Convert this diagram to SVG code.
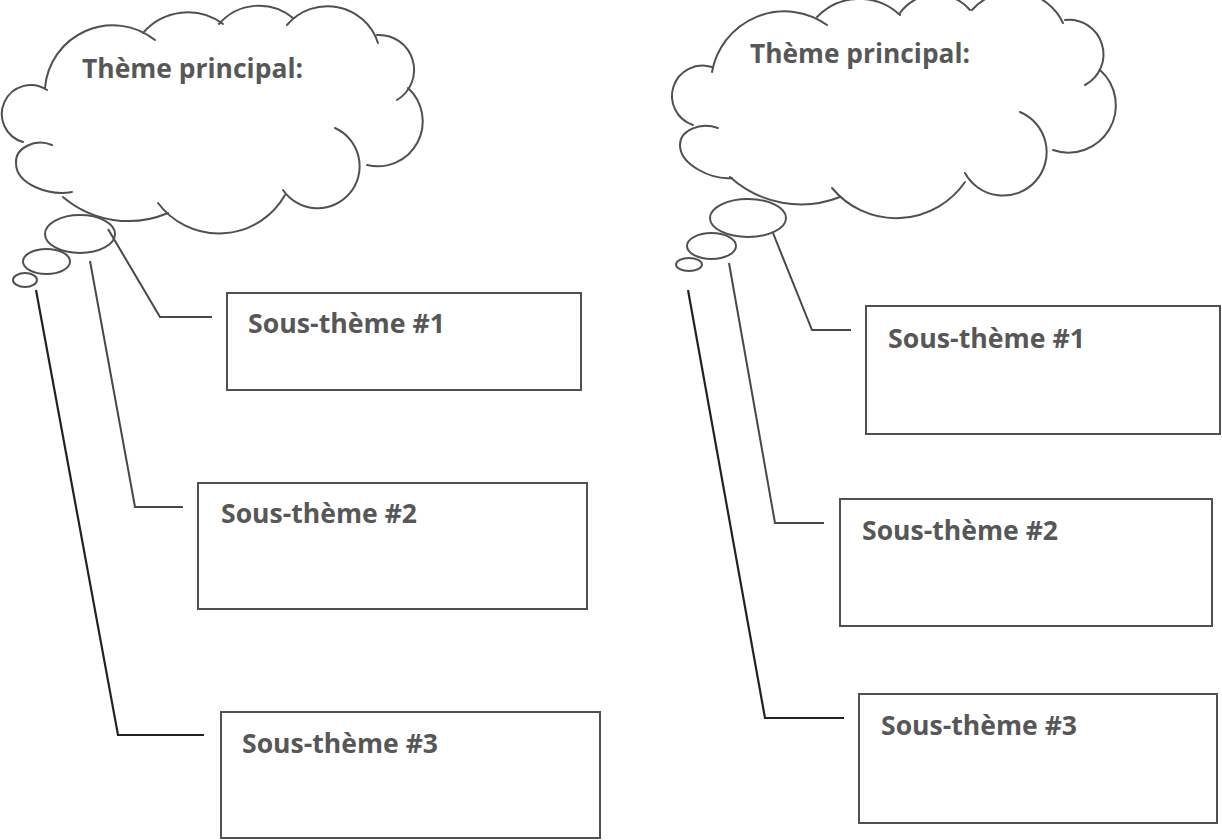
<svg xmlns="http://www.w3.org/2000/svg" width="1222" height="840" viewBox="0 0 1222 840">
<style>
.ol{fill:none;stroke:#505050;stroke-width:2;stroke-linecap:round}
.box{fill:#fff;stroke:#505050;stroke-width:2}
.con{fill:none;stroke:#484848;stroke-width:2}
.con3{fill:none;stroke:#222;stroke-width:2.2}
.t{font-family:"Open Sans",Lato,"Liberation Sans",sans-serif;font-weight:700;font-size:26px;fill:#575757}
</style>
<rect width="1222" height="840" fill="#fff"/>
<g id="connectors">
<polyline class="con" points="108,229 160,317 212,317"/>
<polyline class="con" points="90,261 135,507 183,507"/>
<polyline class="con3" points="36,290 118,735 204,735"/>
<polyline class="con" points="773,233 812,330 851,330"/>
<polyline class="con" points="729,263 775,523 824,523"/>
<polyline class="con3" points="688,290 765,718 844,718"/>
</g>
<g id="theme-left">
<path class="ol" d="M45,88 A68,68 0 0 1 155,40"/>
<path class="ol" d="M143,33 A59,59 0 0 1 223,24"/>
<path class="ol" d="M219,24 A53,53 0 0 1 293,18"/>
<path class="ol" d="M287,25 A53,53 0 0 1 378,43"/>
<path class="ol" d="M377,35 A35,35 0 0 1 397,100"/>
<path class="ol" d="M408,88 A45,45 0 0 1 367,165"/>
<path class="ol" d="M335,128 A42,42 0 1 1 283,190"/>
<path class="ol" d="M285,195 A76,76 0 0 1 158,203"/>
<path class="ol" d="M168,213 A101,101 0 0 1 63,197"/>
<path class="ol" d="M72,192 C50,196 16,185 16,163 C15,148 35,138 52,145"/>
<path class="ol" d="M23,142 A29,29 0 1 1 47,90"/>
<text class="t" x="82" y="78" textLength="221" lengthAdjust="spacingAndGlyphs">Thème principal:</text>
</g>
<g id="bubbles-left">
<ellipse class="ol" cx="80" cy="234" rx="35" ry="19"/>
<ellipse class="ol" cx="46.5" cy="261.5" rx="23.5" ry="12.5"/>
<ellipse class="ol" cx="25" cy="280" rx="12" ry="7"/>
</g>
<g id="sub1-left">
<rect class="box" x="227" y="293" width="354" height="97"/>
<text class="t" x="248" y="333" textLength="197" lengthAdjust="spacingAndGlyphs">Sous-thème #1</text>
</g>
<g id="sub2-left">
<rect class="box" x="198" y="483" width="389" height="126"/>
<text class="t" x="221" y="523" textLength="196" lengthAdjust="spacingAndGlyphs">Sous-thème #2</text>
</g>
<g id="sub3-left">
<rect class="box" x="221" y="712" width="379" height="126"/>
<text class="t" x="242" y="753" textLength="196" lengthAdjust="spacingAndGlyphs">Sous-thème #3</text>
</g>
<g id="theme-right">
<path class="ol" d="M712,72 A73.5,73.5 0 0 1 827,25"/>
<path class="ol" d="M817,17 A59,59 0 0 1 900,15"/>
<path class="ol" d="M900,13 A44.5,44.5 0 0 1 970,10"/>
<path class="ol" d="M972,10 A55,55 0 0 1 1063,23"/>
<path class="ol" d="M1065,20 A34.6,34.6 0 0 1 1085,85"/>
<path class="ol" d="M1100,70 A47.3,47.3 0 0 1 1053,150"/>
<path class="ol" d="M1020,112 A43.5,43.5 0 1 1 965,173"/>
<path class="ol" d="M965,182 A83.5,83.5 0 0 1 832,188"/>
<path class="ol" d="M840,197 A106,106 0 0 1 730,177"/>
<path class="ol" d="M732,178 C712,180 680,165 680,145 C680,130 700,122 718,128"/>
<path class="ol" d="M693,125 A30.5,30.5 0 0 1 712,67"/>
<text class="t" x="750" y="63" textLength="220" lengthAdjust="spacingAndGlyphs">Thème principal:</text>
</g>
<g id="bubbles-right">
<ellipse class="ol" cx="748" cy="218" rx="38" ry="19"/>
<ellipse class="ol" cx="711.5" cy="246" rx="24.5" ry="13"/>
<ellipse class="ol" cx="689" cy="264.5" rx="13" ry="6.5"/>
</g>
<g id="sub1-right">
<rect class="box" x="866" y="306" width="354" height="128"/>
<text class="t" x="888" y="348" textLength="197" lengthAdjust="spacingAndGlyphs">Sous-thème #1</text>
</g>
<g id="sub2-right">
<rect class="box" x="840" y="499" width="372" height="127"/>
<text class="t" x="862" y="540" textLength="196" lengthAdjust="spacingAndGlyphs">Sous-thème #2</text>
</g>
<g id="sub3-right">
<rect class="box" x="859" y="694" width="358" height="129"/>
<text class="t" x="881" y="735" textLength="196" lengthAdjust="spacingAndGlyphs">Sous-thème #3</text>
</g>
</svg>
